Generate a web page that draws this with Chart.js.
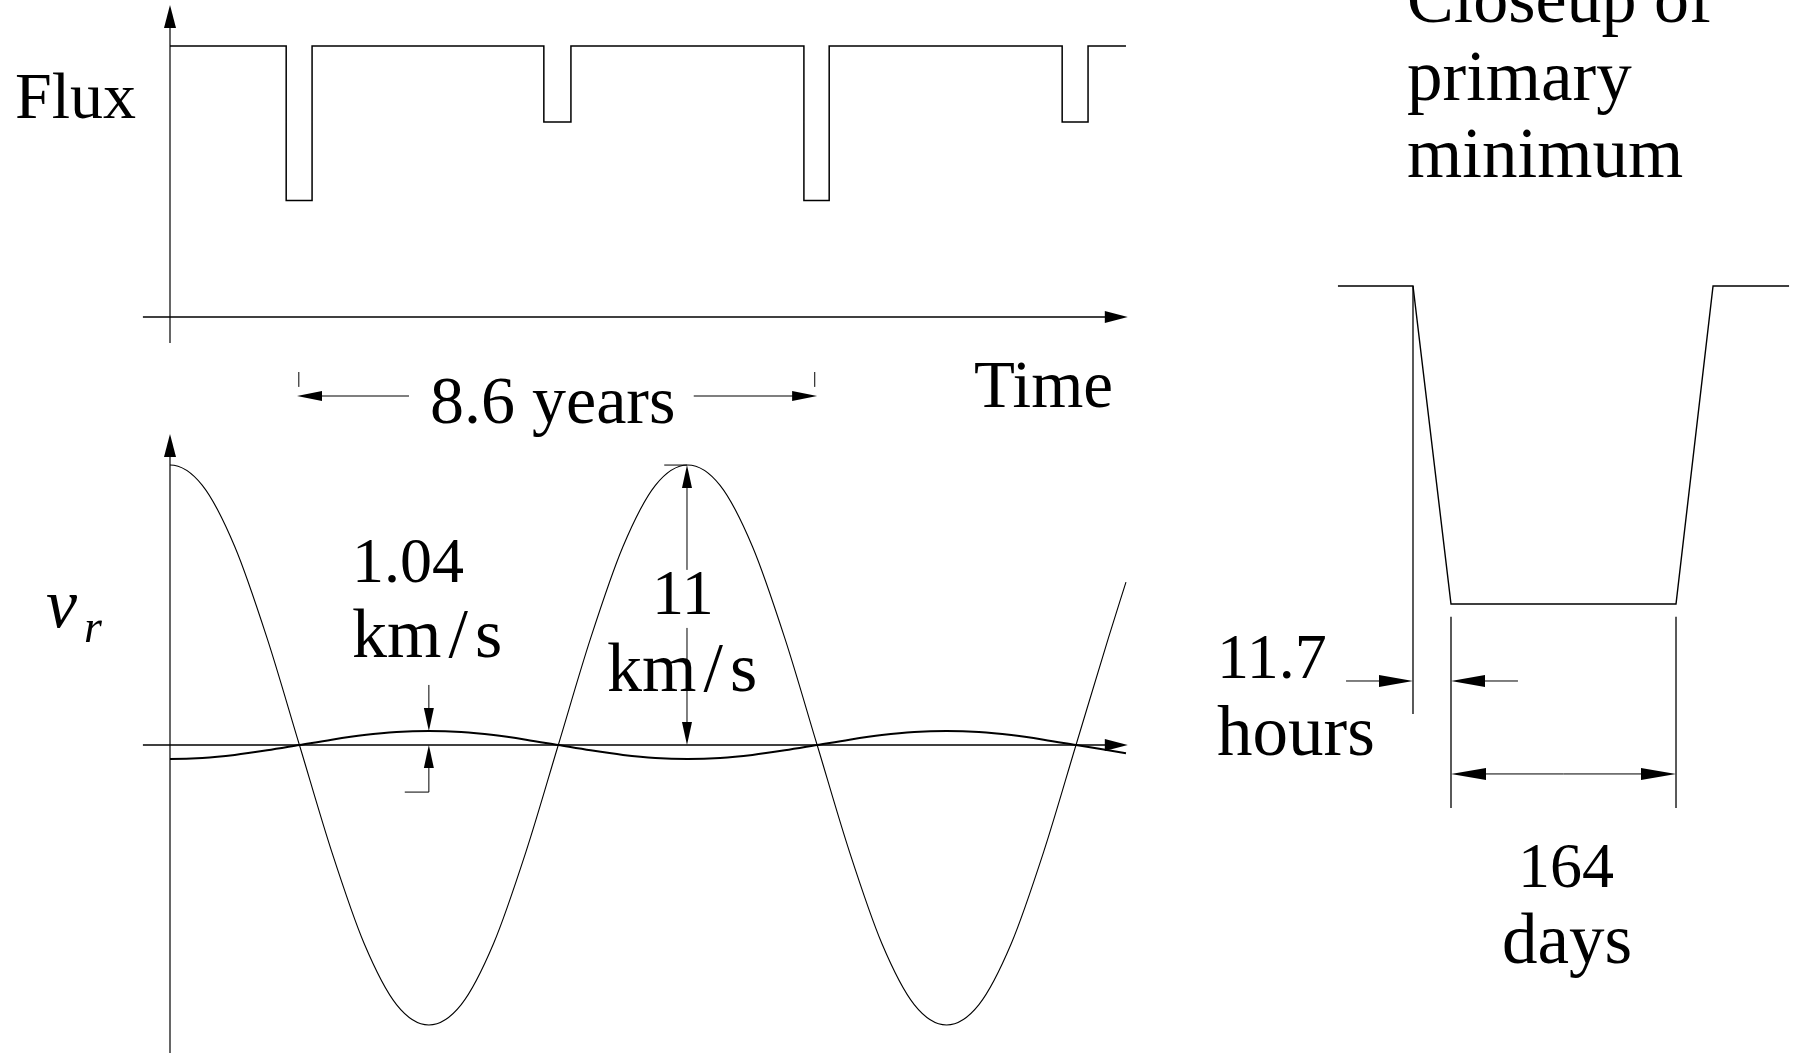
<!DOCTYPE html>
<html>
<head>
<meta charset="utf-8">
<script src="https://cdn.jsdelivr.net/npm/chart.js@4.4.1/dist/chart.umd.min.js"></script>
<style>
  html, body { margin: 0; padding: 0; background: #fff; }
  #wrap { position: relative; width: 1800px; height: 1053px; overflow: hidden; background: #fff; }
  #diagram { position: absolute; left: 0; top: 0; }
  .lbl { position: absolute; font-family: "Liberation Serif", serif; line-height: 1; white-space: nowrap; color: #000; }
  .slash { margin: 0 7px; }
</style>
</head>
<body>
<div id="wrap">
  <canvas id="diagram" width="1800" height="1053"></canvas>
</div>
<script>
// Eclipse light curve: time in years, flux relative to out-of-eclipse level
const eclipseStart = [1.93, 6.21, 10.53, 14.82];
const eclipseEnd = [2.36, 6.66, 10.95, 15.25];
const eclipseFlux = [0.43, 0.72, 0.43, 0.72];
const fluxTimeEnd = 15.88;

// Radial velocity curves: time in years, velocity in km/s
// (first sample sits left of the axis, it is clipped away and only shapes the curve at t = 0)
const rvTimes = [-0.5375, 0, 0.5375, 1.075, 1.6125, 2.15, 2.6875, 3.225, 3.7625, 4.3, 4.8375, 5.375,
  5.9125, 6.45, 6.9875, 7.525, 8.0625, 8.6, 9.1375, 9.675, 10.2125, 10.75, 11.2875, 11.825,
  12.3625, 12.9, 13.4375, 13.975, 14.5125, 15.05, 15.5875, 15.88];
const rvLarge = [10.2, 11, 10.2, 7.8, 4.2, 0, -4.2, -7.8, -10.2, -11, -10.2, -7.8,
  -4.2, 0, 4.2, 7.8, 10.2, 11, 10.2, 7.8, 4.2, 0, -4.2, -7.8,
  -10.2, -11, -10.2, -7.8, -4.2, 0, 4.2, 6.4];
const rvSmall = [-0.51, -0.55, -0.51, -0.39, -0.21, 0, 0.21, 0.39, 0.51, 0.55, 0.51, 0.39,
  0.21, 0, -0.21, -0.39, -0.51, -0.55, -0.51, -0.39, -0.21, 0, 0.21, 0.39,
  0.51, 0.55, 0.51, 0.39, 0.21, 0, -0.21, -0.32];

// Closeup of the primary minimum (schematic time units, relative flux)
const closeupTime = [-82.4, -27.7, 0, 164, 191, 246.4];
const closeupFlux = [1, 1, 0.43, 0.43, 1, 1];

// Text labels
const labelTexts = ['Flux', 'Time', '8.6 years', 'v', 'r', '1.04', 'km/s', '11', 'km/s',
  'Closeup of', 'primary', 'minimum', '11.7', 'hours', '164', 'days'];

// ---- layout (pixels) ----
const W = 1800, H = 1053;
const layout = {
  x:      { zero: 170, ppu: 60.2 },    // years
  yFlux:  { zero: 317, ppu: 271 },     // flux panel
  yVel:   { zero: 745, ppu: 25.45 },   // velocity panel
  xClose: { zero: 1451, ppu: 1.372 },
  yClose: { zero: 843.9, ppu: 557.9 }
};

const labelBoxes = [
  { x: 15,   base: 118, size: 66 },
  { x: 974,  base: 407, size: 67 },
  { x: 430,  base: 423, size: 68 },
  { x: 46,   base: 628, size: 70, italic: true },
  { x: 84,   base: 643, size: 46, italic: true },
  { x: 352,  base: 583, size: 64 },
  { x: 352,  base: 658, size: 70 },
  { x: 652,  base: 615, size: 64 },
  { x: 607,  base: 692, size: 70 },
  { x: 1407, base: 23,  size: 70 },
  { x: 1407, base: 100, size: 71 },
  { x: 1407, base: 177, size: 71 },
  { x: 1217, base: 679, size: 64 },
  { x: 1217, base: 755, size: 71 },
  { x: 1518, base: 888, size: 64 },
  { x: 1502, base: 963, size: 71 }
];

const wrap = document.getElementById('wrap');
labelTexts.forEach((t, i) => {
  const b = labelBoxes[i];
  const el = document.createElement('div');
  el.className = 'lbl';
  if (t.indexOf('/') >= 0) {
    const parts = t.split('/');
    el.appendChild(document.createTextNode(parts[0]));
    const s = document.createElement('span');
    s.className = 'slash';
    s.textContent = '/';
    el.appendChild(s);
    el.appendChild(document.createTextNode(parts[1]));
  } else {
    el.textContent = t;
  }
  el.style.left = b.x + 'px';
  el.style.top = (b.base - 0.8375 * b.size) + 'px';
  el.style.fontSize = b.size + 'px';
  if (b.italic) el.style.fontStyle = 'italic';
  wrap.appendChild(el);
});

// build the step light curve from the eclipse tables
const fluxPoints = [{ x: 0, y: 1 }];
eclipseStart.forEach((s, i) => {
  fluxPoints.push({ x: s, y: 1 }, { x: s, y: eclipseFlux[i] },
                  { x: eclipseEnd[i], y: eclipseFlux[i] }, { x: eclipseEnd[i], y: 1 });
});
fluxPoints.push({ x: fluxTimeEnd, y: 1 });

const pairs = (xs, ys) => xs.map((x, i) => ({ x: x, y: ys[i] }));

function scaleFor(key, axis, total) {
  const l = layout[key];
  const lo = -l.zero / l.ppu, hi = (total - l.zero) / l.ppu;
  return {
    type: 'linear', axis: axis, display: false, position: axis === 'x' ? 'bottom' : 'left',
    min: axis === 'x' ? lo : -hi,
    max: axis === 'x' ? hi : -lo,
    grid: { display: false }, ticks: { display: false }
  };
}

function line(ctx, x1, y1, x2, y2, w) {
  ctx.save();
  ctx.strokeStyle = '#000';
  ctx.lineWidth = w || 1.3;
  ctx.beginPath();
  ctx.moveTo(x1, y1);
  ctx.lineTo(x2, y2);
  ctx.stroke();
  ctx.restore();
}

function head(ctx, x, y, dx, dy, len, half) {
  const bx = x - dx * len, by = y - dy * len;
  ctx.save();
  ctx.fillStyle = '#000';
  ctx.beginPath();
  ctx.moveTo(x, y);
  ctx.lineTo(bx - dy * half, by + dx * half);
  ctx.lineTo(bx + dy * half, by - dx * half);
  ctx.closePath();
  ctx.fill();
  ctx.restore();
}

// arrow from (x1,y1) with its tip at (x2,y2)
function arrow(ctx, x1, y1, x2, y2, len, half, w) {
  const d = Math.hypot(x2 - x1, y2 - y1);
  const dx = (x2 - x1) / d, dy = (y2 - y1) / d;
  line(ctx, x1, y1, x2 - dx * len * 0.5, y2 - dy * len * 0.5, w);
  head(ctx, x2, y2, dx, dy, len, half);
}

const diagramPlugin = {
  id: 'diagram',
  afterDatasetsDraw(chart) {
    const { ctx, scales } = chart;
    const X = v => scales.x.getPixelForValue(v);
    const F = v => scales.yFlux.getPixelForValue(v);
    const V = v => scales.yVel.getPixelForValue(v);
    const CX = v => scales.xClose.getPixelForValue(v);
    const CF = v => scales.yClose.getPixelForValue(v);

    // flux panel axes
    arrow(ctx, X(-0.45), F(0), X(15.91), F(0), 23, 6, 1.4);
    arrow(ctx, X(0), F(-0.096), X(0), F(1.151), 23, 6, 1.2);

    // 8.6 year period marker
    line(ctx, X(2.14), F(-0.203), X(2.14), F(-0.258), 1);
    line(ctx, X(10.71), F(-0.203), X(10.71), F(-0.258), 1);
    arrow(ctx, X(3.97), F(-0.2915), X(2.11), F(-0.2915), 25, 5, 1.2);
    arrow(ctx, X(8.70), F(-0.2915), X(10.75), F(-0.2915), 25, 5, 1.2);

    // velocity panel axes
    arrow(ctx, X(-0.45), V(0), X(15.91), V(0), 23, 6, 1.4);
    arrow(ctx, X(0), V(-12.5), X(0), V(12.22), 23, 6, 1.2);

    // 11 km/s semi-amplitude
    line(ctx, X(8.21), V(11), X(8.588), V(11), 1);
    arrow(ctx, X(8.588), V(6.88), X(8.588), V(11), 23, 5, 1);
    arrow(ctx, X(8.588), V(4.6), X(8.588), V(0), 23, 5, 1);

    // 1.04 km/s semi-amplitude
    arrow(ctx, X(4.3), V(2.36), X(4.3), V(0.55), 23, 5, 1);
    arrow(ctx, X(4.3), V(-1.85), X(4.3), V(0), 23, 5, 1);
    line(ctx, X(3.9), V(-1.85), X(4.3), V(-1.85), 1);

    // closeup dimension lines
    line(ctx, CX(-27.7), CF(1), CX(-27.7), CF(0.233), 1.3);
    line(ctx, CX(0), CF(0.407), CX(0), CF(0.0645), 1.3);
    line(ctx, CX(164), CF(0.407), CX(164), CF(0.0645), 1.3);
    arrow(ctx, CX(-76.5), CF(0.292), CX(-27.7), CF(0.292), 34, 6, 1);
    arrow(ctx, CX(48.8), CF(0.292), CX(0), CF(0.292), 34, 6, 1);
    arrow(ctx, CX(82), CF(0.1254), CX(0), CF(0.1254), 35, 6, 1);
    arrow(ctx, CX(82), CF(0.1254), CX(164), CF(0.1254), 35, 6, 1);
  }
};

function curve(points, xId, yId, width, smooth, clip) {
  const ds = {
    data: points, xAxisID: xId, yAxisID: yId,
    showLine: true, borderColor: '#000', borderWidth: width,
    tension: 0, pointRadius: 0, fill: false
  };
  if (smooth) ds.cubicInterpolationMode = 'monotone';
  if (clip) ds.clip = clip;
  return ds;
}

// velocity curves are cut at the vertical axis
const axisClip = { left: -layout.x.zero, top: false, right: false, bottom: false };

new Chart(document.getElementById('diagram'), {
  type: 'scatter',
  data: {
    datasets: [
      curve(fluxPoints, 'x', 'yFlux', 1.5, false),
      curve(pairs(rvTimes, rvLarge), 'x', 'yVel', 1.1, true, axisClip),
      curve(pairs(rvTimes, rvSmall), 'x', 'yVel', 2, true, axisClip),
      curve(pairs(closeupTime, closeupFlux), 'xClose', 'yClose', 1.4, false)
    ]
  },
  options: {
    responsive: false,
    animation: false,
    events: [],
    layout: { padding: 0 },
    plugins: { legend: { display: false }, tooltip: { enabled: false } },
    scales: {
      x: scaleFor('x', 'x', W),
      yFlux: scaleFor('yFlux', 'y', H),
      yVel: scaleFor('yVel', 'y', H),
      xClose: scaleFor('xClose', 'x', W),
      yClose: scaleFor('yClose', 'y', H)
    }
  },
  plugins: [diagramPlugin]
});
</script>
</body>
</html>
